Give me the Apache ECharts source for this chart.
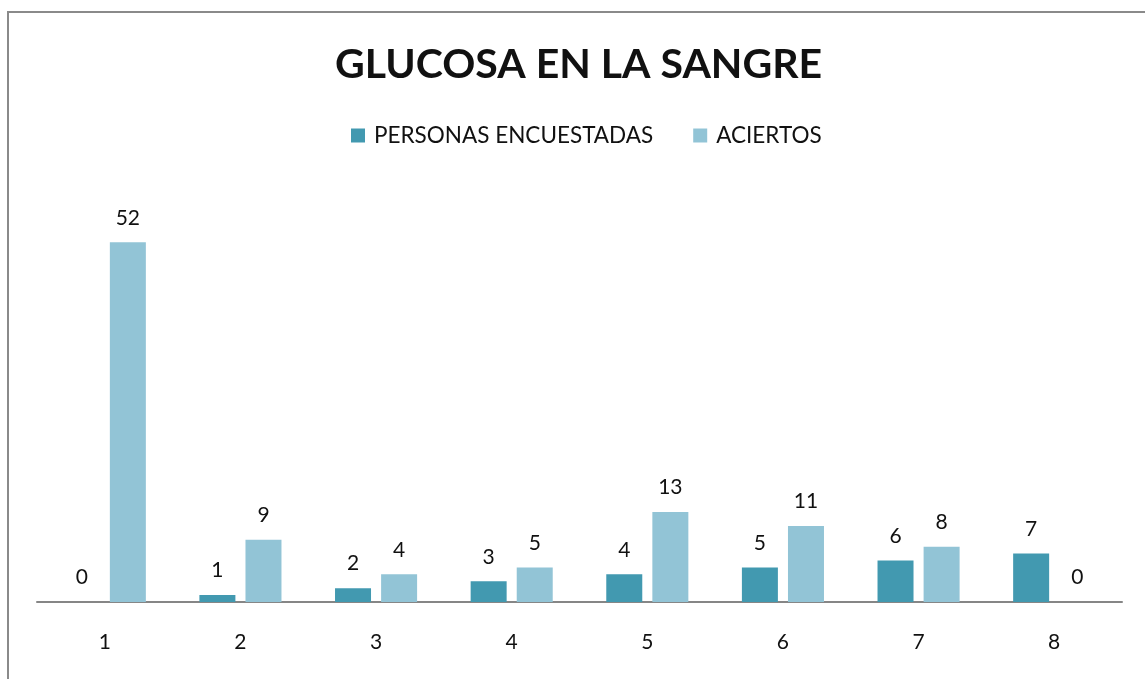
<!DOCTYPE html>
<html>
<head>
<meta charset="utf-8">
<script src="https://cdn.jsdelivr.net/npm/echarts@6/dist/echarts.min.js"></script>
<style>
  html, body { margin: 0; padding: 0; background: #fff; }
  #chart { width: 1145px; height: 679px; }
</style>
</head>
<body>
<div id="chart"></div>
<script>
// datos del grafico
var categorias = ['1', '2', '3', '4', '5', '6', '7', '8'];
var personasEncuestadas = [0, 1, 2, 3, 4, 5, 6, 7];
var aciertos = [52, 9, 4, 5, 13, 11, 8, 0];

var fuente = 'Lato';

var myChart = echarts.init(document.getElementById('chart'));

var etiqueta = {
    show: true,
    position: 'top',
    distance: 14,
    color: '#111',
    fontFamily: fuente,
    fontSize: 21
};

var option = {
    backgroundColor: '#fff',
    animation: false,
    //marco del grafico
    graphic: [{
        type: 'rect',
        shape: { x: 8, y: 12, width: 1300, height: 1000 },
        style: { fill: 'none', stroke: '#8a8a8a', lineWidth: 2 },
        silent: true
    }],
    title: {
        text: 'GLUCOSA EN LA SANGRE',
        left: 330,
        top: 39,
        textStyle: {
            color: '#111',
            fontFamily: fuente,
            fontWeight: 'bold',
            fontSize: 41
        }
    },
    legend: {
        top: 119,
        left: 346,
        itemWidth: 14,
        itemHeight: 14,
        itemGap: 40,
        icon: 'rect',
        textStyle: {
            color: '#111',
            fontFamily: fuente,
            fontSize: 22.5,
            padding: [0, 0, 0, 4]
        },
        data: ['PERSONAS ENCUESTADAS', 'ACIERTOS']
    },
    grid: {
        left: 37,
        right: 23,
        top: 187,
        bottom: 77
    },
    xAxis: {
        type: 'category',
        data: categorias,
        axisLine: { lineStyle: { color: '#868686', width: 2 } },
        axisTick: { show: false },
        axisLabel: {
            color: '#111',
            fontFamily: fuente,
            fontSize: 21,
            margin: 30
        }
    },
    yAxis: {
        type: 'value',
        min: 0,
        max: 60,
        show: false,
        splitLine: { show: false }
    },
    series: [{
        name: 'PERSONAS ENCUESTADAS',
        type: 'bar',
        data: personasEncuestadas,
        barWidth: 36,
        barGap: '28%',
        itemStyle: { color: '#4299B0' },
        label: etiqueta
    }, {
        name: 'ACIERTOS',
        type: 'bar',
        data: aciertos,
        barWidth: 36,
        barGap: '28%',
        itemStyle: { color: '#92C4D6' },
        label: etiqueta
    }]
};

myChart.setOption(option);
</script>
</body>
</html>
